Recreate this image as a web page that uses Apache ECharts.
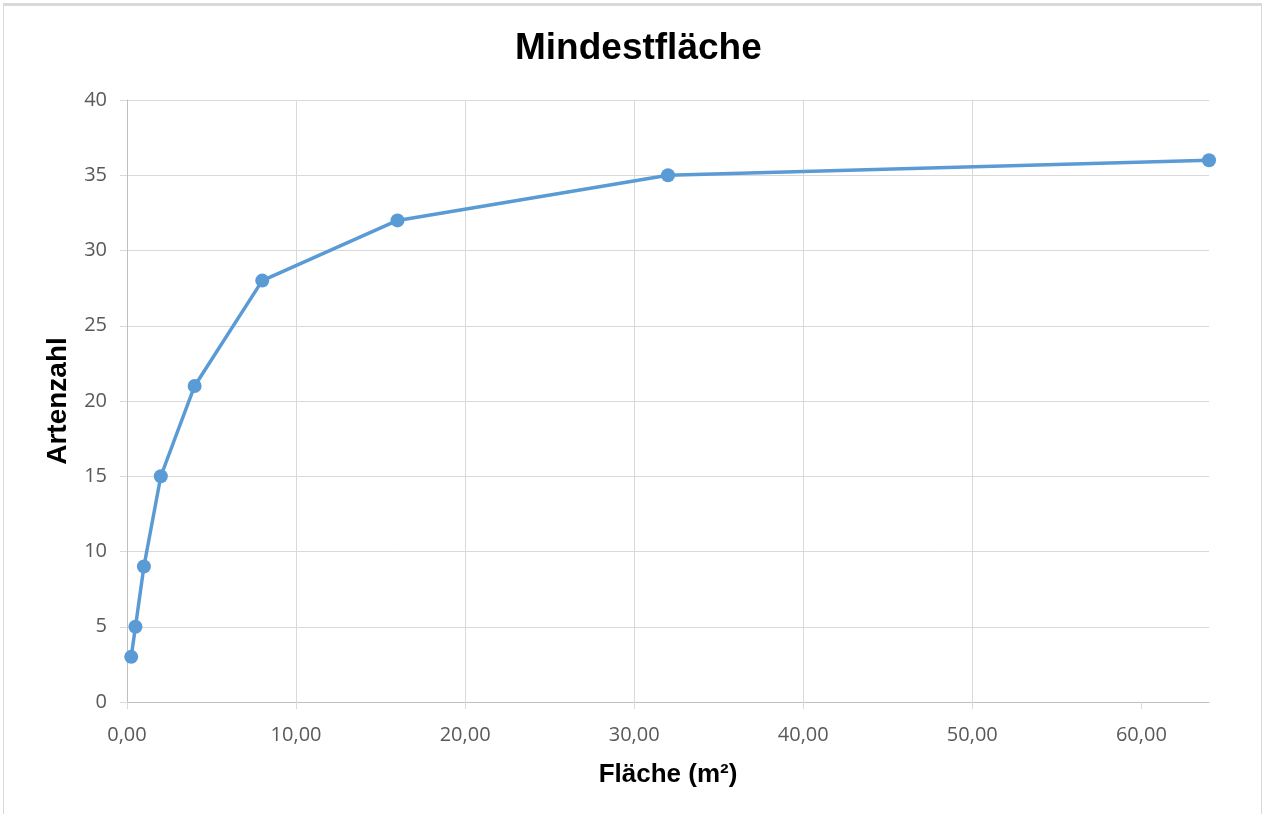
<!DOCTYPE html>
<html>
<head>
<meta charset="utf-8">
<script src="https://cdn.jsdelivr.net/npm/echarts@6/dist/echarts.min.js"></script>
<style>
  html, body { margin: 0; padding: 0; background: #fff; overflow: hidden; }
  #frame {
    position: absolute; left: 3px; top: 3px; width: 1259px; height: 900px;
    border: 1px solid #d9d9d9; border-top: 3px solid #d9d9d9; box-sizing: border-box;
  }
  #chart { position: absolute; left: 0; top: 0; width: 1266px; height: 814px; }
</style>
</head>
<body>
<div id="frame"></div>
<div id="chart"></div>
<script>
// Fläche der Aufnahmefläche (m²) und gefundene Artenzahl
const flaeche = [0.25, 0.5, 1, 2, 4, 8, 16, 32, 64];
const artenzahl = [3, 5, 9, 15, 21, 28, 32, 35, 36];
const xTicks = [0, 10, 20, 30, 40, 50, 60];
const yTicks = [0, 5, 10, 15, 20, 25, 30, 35, 40];

const points = flaeche.map((x, i) => [x, artenzahl[i]]);
const fmtDe = v => v.toFixed(2).replace('.', ',');

const chart = echarts.init(document.getElementById('chart'), null, { renderer: 'canvas' });
chart.setOption({
  backgroundColor: 'transparent',
  animation: false,
  title: {
    text: 'Mindestfläche',
    left: 510,
    top: 25,
    textStyle: { fontFamily: 'Liberation Sans, Arial, sans-serif', fontWeight: 'bold', fontSize: 37, color: '#000' }
  },
  grid: { left: 127, right: 57, top: 100, bottom: 112 },
  xAxis: {
    type: 'value',
    min: 0,
    max: 64,
    interval: 10,
    name: 'Fläche (m²)',
    nameLocation: 'middle',
    nameGap: 60,
    nameTextStyle: { fontFamily: 'Liberation Sans, Arial, sans-serif', fontWeight: 'bold', fontSize: 26, color: '#000' },
    axisLine: { show: true, lineStyle: { color: '#bfbfbf', width: 1 } },
    axisTick: { show: true, length: 7, customValues: xTicks, lineStyle: { color: '#d9d9d9' } },
    axisLabel: {
      customValues: xTicks,
      margin: 23,
      formatter: fmtDe,
      fontFamily: 'Open Sans, Noto Sans, sans-serif', fontSize: 20, color: '#595959'
    },
    splitLine: { show: true, showMaxLine: false, lineStyle: { color: '#d9d9d9', width: 1 } }
  },
  yAxis: {
    type: 'value',
    min: 0,
    max: 40,
    interval: 5,
    name: 'Artenzahl',
    nameLocation: 'middle',
    nameGap: 55,
    nameTextStyle: { fontFamily: 'Liberation Sans, Arial, sans-serif', fontWeight: 'bold', fontSize: 28, color: '#000' },
    axisLine: { show: true, lineStyle: { color: '#bfbfbf', width: 1 } },
    axisTick: { show: true, length: 7, customValues: yTicks, lineStyle: { color: '#d9d9d9' } },
    axisLabel: {
      customValues: yTicks,
      margin: 20,
      formatter: v => String(v),
      fontFamily: 'Open Sans, Noto Sans, sans-serif', fontSize: 20, color: '#595959'
    },
    splitLine: { show: true, lineStyle: { color: '#d9d9d9', width: 1 } }
  },
  series: [{
    type: 'line',
    data: points,
    symbol: 'circle',
    symbolSize: 14,
    showSymbol: true,
    lineStyle: { color: '#5b9bd5', width: 3.5 },
    itemStyle: { color: '#5b9bd5' }
  }]
});
</script>
</body>
</html>
